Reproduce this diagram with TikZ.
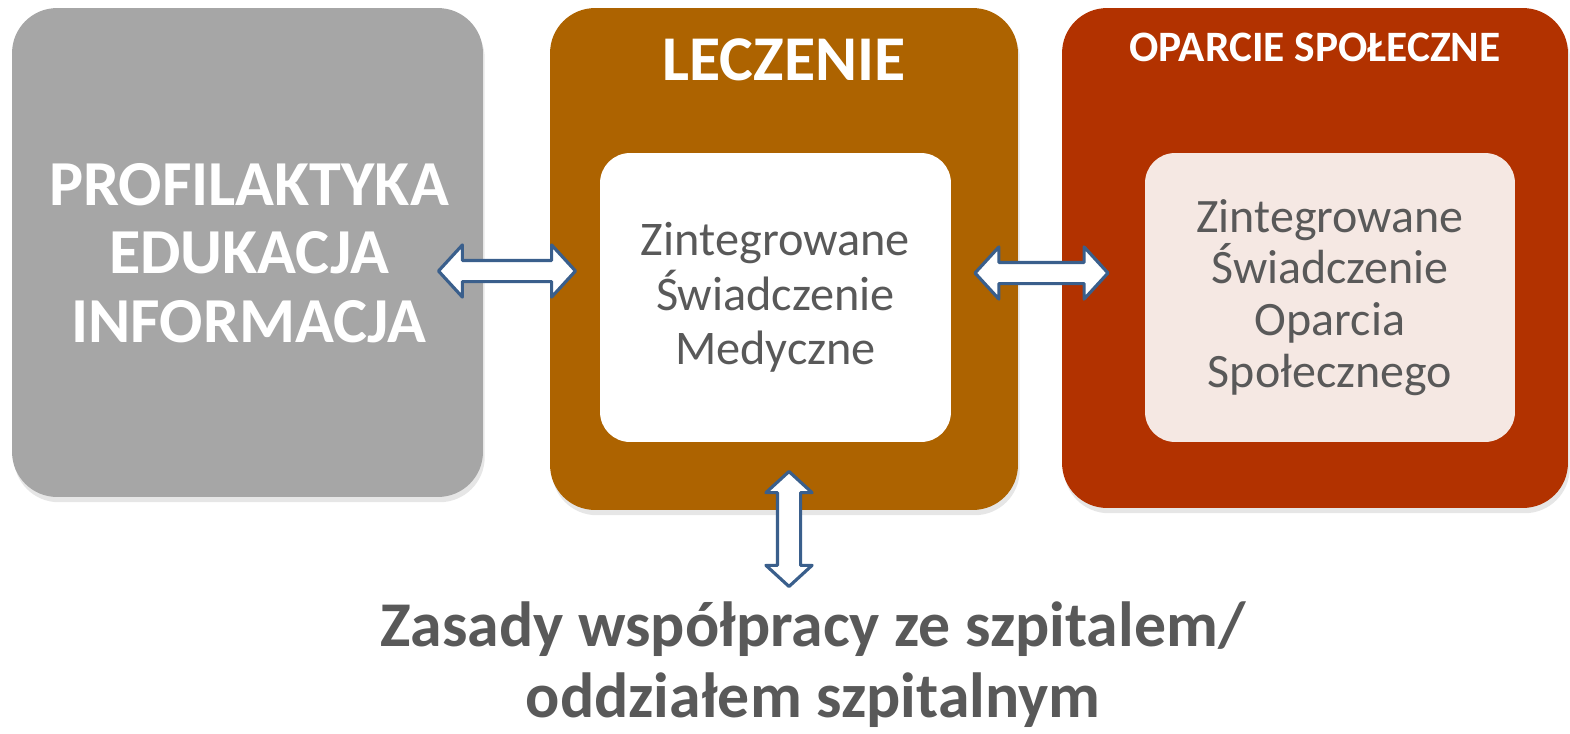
\documentclass[tikz,border=0pt]{standalone}
\usepackage{fontspec}
\setmainfont{Carlito}
\usetikzlibrary{shapes.arrows,shadows}
\definecolor{boxgrey}{RGB}{166,166,166}
\definecolor{boxbrown}{RGB}{173,99,0}
\definecolor{boxred}{RGB}{178,50,0}
\definecolor{boxpink}{RGB}{245,232,227}
\definecolor{txtgrey}{RGB}{89,89,89}
\definecolor{arrblue}{RGB}{58,95,140}

\begin{document}
\begin{tikzpicture}[x=0.02cm,y=-0.02cm]
  \tikzstyle{blk}=[rectangle,rounded corners=0.9cm,draw=none,drop shadow={shadow xshift=1pt,shadow yshift=-3pt,opacity=0.2}]
  \tikzstyle{inbox}=[rectangle,rounded corners=0.6cm,align=center,text=txtgrey]
  \tikzstyle{dbl}=[double arrow,draw=arrblue,fill=white,line width=1.8pt,line join=round,inner xsep=0pt,double arrow tip angle=95]
  \useasboundingbox (0,0) rectangle (1570,734);

  % Big blocks
  \node[blk,fill=boxgrey,minimum width=9.42cm,minimum height=9.78cm] (profil) at (247.5,252.5) {};
  \node[blk,fill=boxbrown,minimum width=9.36cm,minimum height=10.04cm] (leczenie) at (784,259) {};
  \node[blk,fill=boxred,minimum width=10.12cm,minimum height=10cm] (oparcie) at (1315,258) {};

  % Titles
  \node[text=white,font=\bfseries\fontsize{36.3}{40}\selectfont] (leczenieT) at (784,60) {LECZENIE};
  \node[text=white,font=\bfseries\fontsize{24.7}{28}\selectfont] (oparcieT) at (1315,47) {OPARCIE SPOŁECZNE};
  \node[text=white,align=center,font=\bfseries\fontsize{36.5}{39}\selectfont] (profilT) at (249,253) {PROFILAKTYKA\\EDUKACJA\\INFORMACJA};

  % Inner blocks
  \node[inbox,fill=white,minimum width=7.02cm,minimum height=5.78cm,font=\fontsize{27.5}{31}\selectfont] (medyczne) at (775.5,297.5) {Zintegrowane\\Świadczenie\\Medyczne};
  \node[inbox,fill=boxpink,minimum width=7.4cm,minimum height=5.78cm,font=\fontsize{27.3}{29.5}\selectfont] (spoleczne) at (1330,297.5) {Zintegrowane\\Świadczenie\\Oparcia\\Społecznego};

  % Arrows
  \node[dbl,inner ysep=0.18cm,minimum height=2.74cm,minimum width=0.98cm,double arrow head extend=0.31cm] (arrL) at (507,271) {};
  \node[dbl,inner ysep=0.18cm,minimum height=2.66cm,minimum width=0.98cm,double arrow head extend=0.31cm] (arrR) at (1041.5,273) {};
  \node[dbl,rotate=90,inner ysep=0.2cm,minimum height=2.3cm,minimum width=0.86cm,double arrow head extend=0.23cm] (arrD) at (789,529) {};

  % Bottom text
  \node[text=txtgrey,align=center,font=\bfseries\fontsize{36.3}{40.5}\selectfont] (zasady) at (813,665) {Zasady współpracy ze szpitalem/\\oddziałem szpitalnym};
\end{tikzpicture}
\end{document}
